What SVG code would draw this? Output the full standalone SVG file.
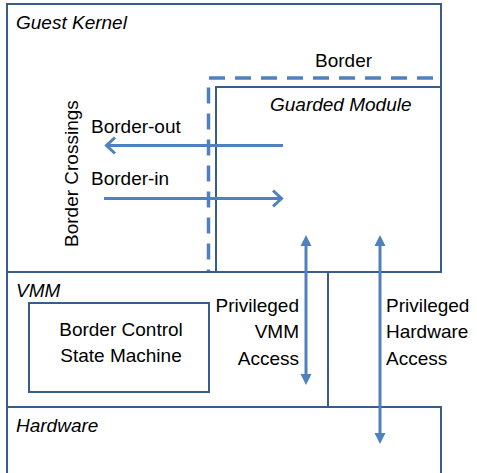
<svg xmlns="http://www.w3.org/2000/svg" width="477" height="473" viewBox="0 0 477 473">
<style>
.box{fill:none;stroke:#385D8A;stroke-width:2}
.t{font-family:"Liberation Sans",Arial,sans-serif;font-size:19px;fill:#000}
.i{font-style:italic}
.arr{fill:none;stroke:#4F81BD;stroke-width:3}
.head{fill:#4F81BD}
</style>
<rect width="477" height="473" fill="#fff"/>
<g id="guest-kernel">
<rect class="box" x="7" y="4" width="434" height="268"/>
<text class="t i" x="16" y="29">Guest Kernel</text>
</g>
<g id="guarded-module">
<rect class="box" x="216" y="87" width="225" height="185"/>
<text class="t i" x="270" y="111">Guarded Module</text>
</g>
<g id="border">
<path d="M433,78 H208.5 V272" fill="none" stroke="#4F81BD" stroke-width="3.5" stroke-dasharray="16,10"/>
<text class="t" x="315" y="67">Border</text>
</g>
<g id="vmm">
<rect class="box" x="7" y="272" width="321" height="135"/>
<text class="t i" x="16" y="297">VMM</text>
</g>
<g id="border-control">
<rect class="box" x="29" y="303" width="180" height="89"/>
<text class="t" x="121" y="336" text-anchor="middle">Border Control</text>
<text class="t" x="121" y="362" text-anchor="middle">State Machine</text>
</g>
<g id="hardware">
<path class="box" d="M7,480 V407 H441 V480"/>
<text class="t i" x="16" y="432">Hardware</text>
</g>
<g id="connectors">
<line class="arr" x1="283" y1="145.5" x2="107" y2="145.5"/>
<path class="arr" d="M115,137.5 L106.5,145.5 L115,153.5"/>
<line class="arr" x1="104" y1="198.5" x2="281" y2="198.5"/>
<path class="arr" d="M273,190.5 L281.5,198.5 L273,206.5"/>
<line class="arr" x1="306" y1="245" x2="306" y2="375"/>
<path class="head" d="M306,235 L311.5,246 L300.5,246 Z"/>
<path class="head" d="M306,385 L311.5,374 L300.5,374 Z"/>
<line class="arr" x1="380" y1="245" x2="380" y2="434"/>
<path class="head" d="M380,235 L385.5,246 L374.5,246 Z"/>
<path class="head" d="M380,444 L385.5,433 L374.5,433 Z"/>
</g>
<g id="labels">
<text class="t" x="91" y="133">Border-out</text>
<text class="t" x="91" y="185">Border-in</text>
<text class="t" transform="translate(78,247) rotate(-90)">Border Crossings</text>
<text class="t" x="299" y="312" text-anchor="end">Privileged</text>
<text class="t" x="299" y="338" text-anchor="end">VMM</text>
<text class="t" x="299" y="365" text-anchor="end">Access</text>
<text class="t" x="386" y="312">Privileged</text>
<text class="t" x="386" y="338">Hardware</text>
<text class="t" x="386" y="365">Access</text>
</g>
</svg>
